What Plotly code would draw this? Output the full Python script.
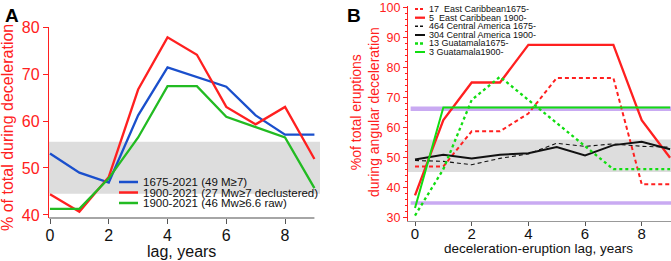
import plotly.graph_objects as go

# ---------------- Panel A data ----------------
lag_a = [0, 1, 2, 3, 4, 5, 6, 7, 8, 9]
a_1675 = [53.1, 49.0, 46.9, 61.2, 71.4, 69.4, 67.3, 61.2, 57.1, 57.1]
a_1900_decl = [44.4, 40.7, 48.1, 66.7, 77.8, 74.1, 63.0, 59.3, 63.0, 51.9]
a_1900_raw = [41.3, 41.3, 47.8, 56.5, 67.4, 67.4, 60.9, 58.7, 56.5, 45.7]
a_names = ["1675-2021 (49 M≥7)", "1900-2021 (27 Mw≥7 declustered)", "1900-2021 (46 Mw≥6.6 raw)"]
a_band = [44.5, 55.6]

# ---------------- Panel B data ----------------
lag_b = [0, 1, 2, 3, 4, 5, 6, 7, 8, 9]
b_ec1675 = [47.1, 47.1, 58.8, 58.8, 64.7, 76.5, 76.5, 76.5, 41.2, 41.2]
b_ec1900 = [37.5, 62.5, 75.0, 75.0, 87.5, 87.5, 87.5, 87.5, 62.5, 50.0]
b_ca1675 = [49.1, 48.8, 47.7, 49.8, 51.3, 54.8, 53.8, 54.6, 53.8, 53.5]
b_ca1900 = [49.4, 51.0, 49.8, 51.0, 51.5, 53.6, 50.8, 54.2, 55.3, 52.8]
b_gu1675 = [30.8, 46.2, 69.2, 76.9, 69.2, 61.5, 53.8, 46.2, 46.2, 46.2]
b_gu1900 = [33.3, 66.7, 66.7, 66.7, 66.7, 66.7, 66.7, 66.7, 66.7, 66.7]
b_names = ["17  East Caribbean1675-", "5  East Caribbean 1900-", "464 Central America 1675-",
           "304 Central America 1900-", "13 Guatamala1675-", "3 Guatamala1900-"]
b_band = [45.3, 56.1]
b_purple = [66.3, 35.0]

RED = "#ff2020"
BLUE = "#1a4fcc"
GREENA = "#22bb22"
GREENB = "#11dd11"
BLACK = "#111111"
GRAY = "#dddddd"
PURPLE = "#c9aaf2"
FONT = "Liberation Sans, Arial, sans-serif"

fig = go.Figure()

for ys, col in zip([a_1675, a_1900_decl, a_1900_raw], [BLUE, RED, GREENA]):
    fig.add_trace(go.Scatter(x=lag_a, y=ys, mode="lines", line=dict(color=col, width=2.3),
                             xaxis="x", yaxis="y", showlegend=False))

b_series = [b_ec1675, b_ec1900, b_ca1675, b_ca1900, b_gu1675, b_gu1900]
b_styles = [(RED, "dash", 2.0), (RED, "solid", 2.3), (BLACK, "dash", 1.1),
            (BLACK, "solid", 2.0), (GREENB, "dot", 2.3), (GREENB, "solid", 2.0)]
b_dash_map = {"dash": "4px,3px", "dot": "3px,3px", "solid": "solid"}
for ys, (col, dash, w) in zip(b_series, b_styles):
    fig.add_trace(go.Scatter(x=lag_b, y=ys, mode="lines",
                             line=dict(color=col, width=w, dash=b_dash_map[dash]),
                             xaxis="x2", yaxis="y2", showlegend=False))

shapes = []
shapes.append(dict(type="rect", xref="x domain", yref="y", x0=0, x1=1, y0=a_band[0], y1=a_band[1],
                   fillcolor=GRAY, line=dict(width=0), layer="below"))
shapes.append(dict(type="rect", xref="x2 domain", yref="y2", x0=0, x1=1, y0=b_band[0], y1=b_band[1],
                   fillcolor=GRAY, line=dict(width=0), layer="below"))
shapes.append(dict(type="line", xref="x2 domain", yref="y2", x0=0.01, x1=1, y0=b_purple[0], y1=b_purple[0],
                   line=dict(color=PURPLE, width=4.5), layer="below"))
shapes.append(dict(type="line", xref="x2 domain", yref="y2", x0=0.01, x1=1, y0=b_purple[1], y1=b_purple[1],
                   line=dict(color=PURPLE, width=3.5), layer="below"))
shapes.append(dict(type="line", xref="x", yref="y domain", x0=-0.03, x1=9.0, y0=0, y1=0,
                   line=dict(color="#888888", width=1.3)))

annotations = []
W, H = 671.0, 261.0
a_rows = [182, 192.5, 203]
for name, col, yp in zip(a_names, [BLUE, RED, GREENA], a_rows):
    shapes.append(dict(type="line", xref="paper", yref="paper", x0=119 / W, x1=138 / W,
                       y0=1 - yp / H, y1=1 - yp / H, line=dict(color=col, width=2.5)))
    annotations.append(dict(xref="paper", yref="paper", x=141 / W, y=1 - yp / H, text=name,
                            showarrow=False, xanchor="left", yanchor="middle",
                            font=dict(family=FONT, size=11.5, color="#111111")))
b_rows = [9, 17.7, 26.3, 35, 43.5, 52]
for name, (col, dash, w), yp in zip(b_names, b_styles, b_rows):
    shapes.append(dict(type="line", xref="paper", yref="paper", x0=415 / W, x1=425 / W,
                       y0=1 - yp / H, y1=1 - yp / H,
                       line=dict(color=col, width=max(w, 1.5),
                                 dash=("solid" if dash == "solid" else "3px,2px"))))
    annotations.append(dict(xref="paper", yref="paper", x=427 / W, y=1 - yp / H, text=name,
                            showarrow=False, xanchor="left", yanchor="middle",
                            font=dict(family=FONT, size=9, color="#111111")))

annotations.append(dict(xref="paper", yref="paper", x=3 / W, y=1 - 3 / H, text="<b>A</b>", showarrow=False,
                        xanchor="left", yanchor="top", font=dict(family=FONT, size=19, color="black")))
annotations.append(dict(xref="paper", yref="paper", x=345 / W, y=1 - 3 / H, text="<b>B</b>", showarrow=False,
                        xanchor="left", yanchor="top", font=dict(family=FONT, size=19, color="black")))
annotations.append(dict(xref="paper", yref="paper", x=8 / W, y=1 - 128 / H, text="% of total during deceleration",
                        showarrow=False, textangle=-90, xanchor="center", yanchor="middle",
                        font=dict(family=FONT, size=16, color=RED)))
annotations.append(dict(xref="paper", yref="paper", x=181 / W, y=1 - 251 / H, text="lag, years",
                        showarrow=False, xanchor="center", yanchor="middle",
                        font=dict(family=FONT, size=16, color="#111111")))
annotations.append(dict(xref="paper", yref="paper", x=365 / W, y=1 - 112 / H,
                        text="%of total eruptions<br>during angular deceleration",
                        showarrow=False, textangle=-90, xanchor="center", yanchor="middle",
                        font=dict(family=FONT, size=14, color=RED)))
annotations.append(dict(xref="paper", yref="paper", x=538 / W, y=1 - 249 / H,
                        text="deceleration-eruption lag, years",
                        showarrow=False, xanchor="center", yanchor="middle",
                        font=dict(family=FONT, size=13.5, color="#111111")))

fig.update_layout(
    width=671, height=261, margin=dict(l=0, r=0, t=0, b=0, autoexpand=False),
    paper_bgcolor="white", plot_bgcolor="white",
    showlegend=False, shapes=shapes, annotations=annotations,
    font=dict(family=FONT), hovermode=False,
    xaxis=dict(domain=[49 / W, 320 / W], range=[-0.034, 9.19], tickvals=[0, 2, 4, 6, 8],
               ticks="outside", ticklen=5, tickcolor="#555555", showline=False, showgrid=False,
               zeroline=False, tickfont=dict(size=16, color="#111111"), anchor="y",
               ticklabelstandoff=-2, automargin=False, ticklabeloverflow="allow"),
    yaxis=dict(domain=[(H - 218) / H, (H - 27) / H], range=[39.36, 80], tickvals=[40, 50, 60, 70, 80],
               ticks="outside", ticklen=5, tickcolor=RED, showline=True, linecolor=RED, linewidth=1.3,
               showgrid=False, zeroline=False, tickfont=dict(size=16, color=RED), anchor="x",
               automargin=False, ticklabeloverflow="allow"),
    xaxis2=dict(domain=[408 / W, 1.0], range=[-0.247, 9.033], tickvals=[0, 2, 4, 6, 8],
                ticks="outside", ticklen=4, tickcolor="#555555", showline=True, linecolor="#999999",
                linewidth=1.3, showgrid=False, zeroline=False, tickfont=dict(size=15, color="#111111"),
                anchor="y2", ticklabelstandoff=-5, automargin=False, ticklabeloverflow="allow"),
    yaxis2=dict(domain=[(H - 220.7) / H, (H - 6.3) / H], range=[29.1, 100.3],
                tickvals=[30, 40, 50, 60, 70, 80, 90, 100],
                ticks="outside", ticklen=4, tickcolor=RED, showline=True, linecolor=RED, linewidth=1.3,
                minor=dict(dtick=2, ticks="outside", ticklen=2, tickcolor=RED),
                showgrid=False, zeroline=False, tickfont=dict(size=12.5, color=RED), anchor="x2",
                automargin=False, ticklabeloverflow="allow"),
)

fig.write_html("out.html", config={"displayModeBar": False},
               post_script="document.body.style.margin='0px';")
